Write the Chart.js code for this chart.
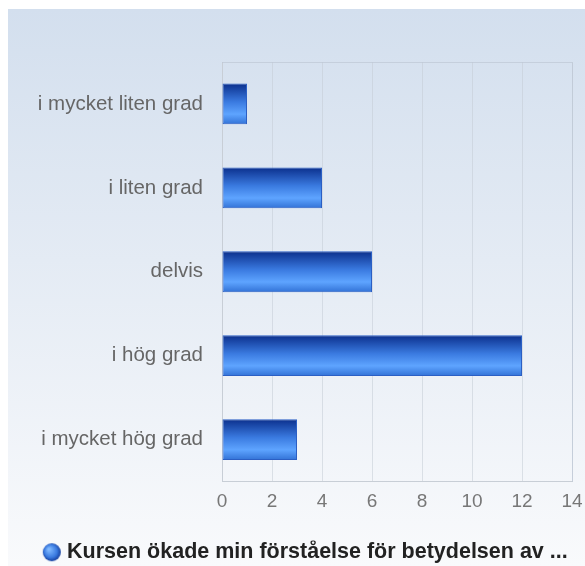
<!DOCTYPE html>
<html>
<head>
<meta charset="utf-8">
<script src="https://cdn.jsdelivr.net/npm/chart.js@4/dist/chart.umd.min.js"></script>
<style>
    html, body {
        margin: 0;
        padding: 0;
        background: #ffffff;
    }

    #wrap {
        position: relative;
        width: 585px;
        height: 566px;
        overflow: hidden;
    }

    #backdrop {
        position: absolute;
        left: 8px;
        top: 9px;
        right: 0;
        bottom: 0;
        background: linear-gradient(to bottom, #d3dfee 0%, #e4ebf4 45%, #f9fafc 100%);
    }

    #chart {
        position: absolute;
        left: 0;
        top: 0;
    }
</style>
</head>
<body>
<div id="wrap">
    <div id="backdrop"></div>
    <canvas id="chart" width="585" height="566"></canvas>
</div>
<script>
    const categories = ["i mycket liten grad", "i liten grad", "delvis", "i hög grad", "i mycket hög grad"];
    const answerCounts = [1, 4, 6, 12, 3];
    const seriesLabel = "Kursen ökade min förståelse för betydelsen av ...";
    const xTicks = [0, 2, 4, 6, 8, 10, 12, 14];

    const colours = {
        barTop: "#0b2f8c",
        barMid: "#3a7ae0",
        barLight: "#5ea4ff",
        barBottom: "#3272d6",
        tickText: "#666666",
        legendText: "#222222",
        grid: "rgba(196, 204, 214, 0.55)",
        axis: "#c8ced6"
    };

    const fontFamily = "'Liberation Sans', Arial, sans-serif";

    function barGradient(ctx, top, bottom) {
        const gradient = ctx.createLinearGradient(0, top, 0, bottom);
        gradient.addColorStop(0, colours.barTop);
        gradient.addColorStop(0.45, colours.barMid);
        gradient.addColorStop(0.75, colours.barLight);
        gradient.addColorStop(1, colours.barBottom);
        return gradient;
    }

    // paint each bar with its own vertical gradient, using the positions the scale gave it
    const gradientBars = {
        id: "gradientBars",
        beforeDatasetsDraw(chart) {
            const meta = chart.getDatasetMeta(0);
            meta.data.forEach((bar) => {
                const top = bar.y - bar.height / 2;
                const bottom = bar.y + bar.height / 2;
                bar.options.backgroundColor = barGradient(chart.ctx, top, bottom);
            });
        }
    };

    const plotBorder = {
        id: "plotBorder",
        beforeDatasetsDraw(chart) {
            const area = chart.chartArea;
            const ctx = chart.ctx;
            ctx.save();
            ctx.strokeStyle = "rgba(190, 200, 212, 0.7)";
            ctx.lineWidth = 1;
            ctx.beginPath();
            ctx.moveTo(area.left, area.top + 0.5);
            ctx.lineTo(area.right + 0.5, area.top + 0.5);
            ctx.lineTo(area.right + 0.5, area.bottom);
            ctx.stroke();
            ctx.restore();
        }
    };

    // wide transparent image with the dot pushed right, so the legend sits like the original
    function legendDot(colour) {
        const dot = document.createElement("canvas");
        dot.width = 44;
        dot.height = 20;
        const ctx = dot.getContext("2d");
        const cx = 33;
        const gradient = ctx.createRadialGradient(cx - 3, 7, 1, cx, 10, 10);
        gradient.addColorStop(0, "#7fb8ff");
        gradient.addColorStop(0.6, colour);
        gradient.addColorStop(1, "#0b2f8c");
        ctx.fillStyle = gradient;
        ctx.beginPath();
        ctx.arc(cx, 10, 9, 0, Math.PI * 2);
        ctx.fill();
        return dot;
    }

    new Chart(document.getElementById("chart"), {
        type: "bar",
        data: {
            labels: categories,
            datasets: [{
                label: seriesLabel,
                data: answerCounts,
                // scriptable so every bar keeps its own options object
                backgroundColor: () => colours.barMid,
                borderColor: "#2b5fc4",
                borderWidth: 1,
                borderSkipped: false,
                barPercentage: 0.6,
                categoryPercentage: 0.81
            }]
        },
        options: {
            indexAxis: "y",
            responsive: false,
            animation: false,
            layout: {
                padding: { top: 62, left: 8, right: 0, bottom: -7 }
            },
            plugins: {
                legend: {
                    position: "bottom",
                    labels: {
                        color: colours.legendText,
                        font: { family: fontFamily, size: 21.5, weight: "bold" },
                        usePointStyle: true,
                        pointStyle: legendDot(colours.barMid),
                        pointStyleWidth: 31,
                        padding: 1
                    }
                },
                tooltip: { enabled: false }
            },
            scales: {
                x: {
                    min: 0,
                    max: 14,
                    afterBuildTicks(scale) {
                        scale.ticks = xTicks.map((value) => ({ value }));
                    },
                    afterFit(scale) {
                        scale.height = 59;
                        scale.paddingRight = 13;
                    },
                    ticks: {
                        color: "#777777",
                        font: { family: fontFamily, size: 19 },
                        padding: 9
                    },
                    grid: { color: colours.grid, drawTicks: false },
                    border: { color: colours.axis }
                },
                y: {
                    afterFit(scale) {
                        scale.width = 214;
                    },
                    ticks: {
                        color: colours.tickText,
                        font: { family: fontFamily, size: 20.5 },
                        padding: 19
                    },
                    grid: { display: false, drawTicks: false },
                    border: { color: colours.axis }
                }
            }
        },
        plugins: [plotBorder, gradientBars]
    });
</script>
</body>
</html>
